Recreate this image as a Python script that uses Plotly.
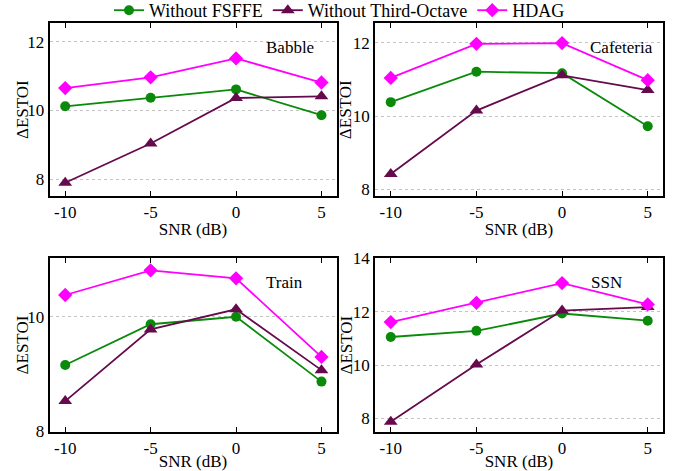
import plotly.graph_objects as go

snr = [-10, -5, 0, 5]
panels = ["Babble", "Cafeteria", "Train", "SSN"]

# Without FSFFE
fsffe_babble = [10.12, 10.37, 10.61, 9.86]
fsffe_cafeteria = [10.38, 11.21, 11.17, 9.72]
fsffe_train = [9.16, 9.87, 10.0, 8.87]
fsffe_ssn = [11.05, 11.28, 11.93, 11.66]

# Without Third-Octave
third_babble = [7.90, 9.04, 10.36, 10.41]
third_cafeteria = [8.42, 10.15, 11.11, 10.71]
third_train = [8.53, 9.78, 10.13, 9.07]
third_ssn = [7.87, 10.02, 12.04, 12.17]

# HDAG
hdag_babble = [10.65, 10.96, 11.51, 10.81]
hdag_cafeteria = [11.04, 11.97, 11.99, 10.98]
hdag_train = [10.38, 10.81, 10.67, 9.30]
hdag_ssn = [11.61, 12.33, 13.07, 12.27]

fsffe = [fsffe_babble, fsffe_cafeteria, fsffe_train, fsffe_ssn]
third = [third_babble, third_cafeteria, third_train, third_ssn]
hdag = [hdag_babble, hdag_cafeteria, hdag_train, hdag_ssn]

y_ranges = [[7.52, 12.53], [7.82, 12.53], [8.0, 11.02], [7.5, 14.0]]
y_ticks = [[8, 10, 12], [8, 10, 12], [8, 10], [8, 10, 12, 14]]
x_ticks = [-10, -5, 0, 5]

W, H = 679, 471
boxes = [  # left, right, top, bottom in px
    (49.5, 336.5, 23.3, 195.8),
    (375.0, 662.8, 23.3, 196.0),
    (49.5, 336.5, 258.3, 431.5),
    (375.0, 662.8, 258.3, 431.7),
]

GREEN = "#0a8a0a"
PURPLE = "#660a4d"
MAGENTA = "#ff00ff"
FONT = "Liberation Serif, Times New Roman, serif"

series = [
    ("Without FSFFE", fsffe, GREEN, "circle", 10),
    ("Without Third-Octave", third, PURPLE, "triangle-up", 12),
    ("HDAG", hdag, MAGENTA, "diamond", 11),
]

fig = go.Figure()
for i in range(4):
    sfx = "" if i == 0 else str(i + 1)
    for name, data, color, sym, size in series:
        fig.add_trace(go.Scatter(
            x=snr, y=data[i], mode="lines+markers", name=name,
            legendgroup=name, showlegend=(i == 0),
            line=dict(color=color, width=1.8),
            marker=dict(symbol=sym, size=size, color=color),
            xaxis="x" + sfx, yaxis="y" + sfx,
        ))

layout = dict(
    width=W, height=H,
    margin=dict(l=0, r=0, t=0, b=0, autoexpand=False),
    paper_bgcolor="white", plot_bgcolor="white",
    font=dict(family=FONT, size=17, color="black"),
    showlegend=True,
    legend=dict(orientation="h", x=0.5, xanchor="center", y=1 - 10.5 / H, yanchor="middle",
                font=dict(family=FONT, size=18, color="black"),
                bgcolor="rgba(0,0,0,0)", itemwidth=30, tracegroupgap=0),
)

annotations = []
ytitle_x = [22.5, 345.5, 22.5, 345.5]
for i, (l, r, t, b) in enumerate(boxes):
    sfx = "" if i == 0 else str(i + 1)
    xd = [l / W, r / W]
    yd = [1 - b / H, 1 - t / H]
    layout["xaxis" + sfx] = dict(
        domain=xd, anchor="y" + sfx, range=[-10.92, 5.88], automargin=False,
        tickmode="array", tickvals=x_ticks, ticktext=[str(v) for v in x_ticks],
        ticks="inside", ticklen=5, tickcolor="black",
        showline=True, linecolor="black", linewidth=1.5, mirror="allticks",
        showgrid=False, zeroline=False,
        tickfont=dict(family=FONT, size=17, color="black"),
        title=dict(text="SNR (dB)", font=dict(family=FONT, size=17, color="black"), standoff=2),
    )
    layout["yaxis" + sfx] = dict(
        domain=yd, anchor="x" + sfx, range=y_ranges[i], automargin=False,
        tickmode="array", tickvals=y_ticks[i], ticktext=[str(v) for v in y_ticks[i]],
        ticks="", showline=True, linecolor="black", linewidth=1.5, mirror=True,
        showgrid=True, gridcolor="#c4c4c4", griddash="dot", gridwidth=1,
        zeroline=False,
        tickfont=dict(family=FONT, size=17, color="black"),
    )
    annotations.append(dict(
        text="ΔESTOI", x=ytitle_x[i] / W, y=1 - (t + b) / 2 / H, xref="paper", yref="paper",
        xanchor="center", yanchor="middle", textangle=-90, showarrow=False,
        font=dict(family=FONT, size=17, color="black"),
    ))

label_pos = [(290, 48), (621.7, 48), (284, 282.7), (606.7, 282.7)]
for i, (px, py) in enumerate(label_pos):
    annotations.append(dict(
        text=panels[i], x=px / W, y=1 - py / H, xref="paper", yref="paper",
        xanchor="center", yanchor="middle", showarrow=False,
        font=dict(family=FONT, size=17, color="black"),
    ))
layout["annotations"] = annotations

fig.update_layout(**layout)
fig.write_html("out.html")
